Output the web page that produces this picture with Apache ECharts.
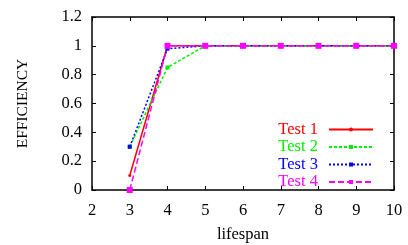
<!DOCTYPE html>
<html>
<head>
<meta charset="utf-8">
<script src="https://cdn.jsdelivr.net/npm/echarts@6/dist/echarts.min.js"></script>
<style>
  html, body { margin: 0; padding: 0; background: #fff; }
  #chart { width: 408px; height: 245px; }
</style>
</head>
<body>
<div id="chart"></div>
<script>
const lifespan = [3, 4, 5, 6, 7, 8, 9, 10]
const test1 = [0.1, 1, 1, 1, 1, 1, 1, 1]
const test2 = [0.3, 0.85, 1, 1, 1, 1, 1, 1]
const test3 = [0.3, 0.98, 1, 1, 1, 1, 1, 1]
const test4 = [0, 1, 1, 1, 1, 1, 1, 1]

const font = 'Liberation Serif'

function pairs(vals) {
    return lifespan.map((x, i) => [x, vals[i]])
}

function line(name, vals, color, type, symbol, size) {
    return {
        name,
        type: 'line',
        data: pairs(vals),
        symbol,
        symbolSize: size,
        showSymbol: true,
        color,
        itemStyle: { color },
        lineStyle: { color, width: 1.5, type },
        animation: false
    }
}

const axisLine = { show: true, onZero: false, lineStyle: { color: '#000', width: 1.5 } }
const tick = { show: true, inside: true, length: 4, lineStyle: { color: '#000', width: 1 } }
const labelStyle = { color: '#000', fontFamily: font, fontSize: 16.5 }

const chart = echarts.init(document.getElementById('chart'))
chart.setOption({
    backgroundColor: '#fff',
    grid: { left: 92, right: 14, top: 17, bottom: 55, containLabel: false, outerBoundsMode: 'none' },
    legend: {
        orient: 'vertical',
        right: 34,
        top: 121,
        padding: 0,
        align: 'right',
        itemWidth: 44,
        itemHeight: 5,
        itemGap: 0.5,
        textStyle: { fontFamily: font, fontSize: 16.5, lineHeight: 17, padding: [0, 6, 0, 0] },
        data: [
            { name: 'Test 1', textStyle: { color: '#ff0000' } },
            { name: 'Test 2', textStyle: { color: '#00ee00' } },
            { name: 'Test 3', textStyle: { color: '#0000ff' } },
            { name: 'Test 4', textStyle: { color: '#ff00ff' } }
        ]
    },
    xAxis: [{
        type: 'value',
        min: 2, max: 10, interval: 1,
        name: 'lifespan',
        nameLocation: 'middle',
        nameGap: 36,
        nameTextStyle: labelStyle,
        axisLine, axisTick: tick,
        axisLabel: { ...labelStyle, margin: 12 },
        splitLine: { show: false }
    }, {
        type: 'value', position: 'top',
        min: 2, max: 10, interval: 1,
        axisLine, axisTick: tick,
        axisLabel: { show: false },
        splitLine: { show: false }
    }],
    yAxis: [{
        type: 'value',
        min: 0, max: 1.2, interval: 0.2,
        name: 'EFFICIENCY',
        nameLocation: 'middle',
        nameGap: 61,
        nameTextStyle: { ...labelStyle, fontSize: 15.5 },
        axisLine, axisTick: tick,
        axisLabel: { ...labelStyle, margin: 10, formatter: v => String(+v.toFixed(1)) },
        splitLine: { show: false }
    }, {
        type: 'value', position: 'right',
        min: 0, max: 1.2, interval: 0.2,
        axisLine, axisTick: tick,
        axisLabel: { show: false },
        splitLine: { show: false }
    }],
    series: [
        line('Test 1', test1, '#ff0000', 'solid', 'circle', 3),
        line('Test 2', test2, '#00ee00', [3, 2], 'rect', 4),
        line('Test 3', test3, '#0000ff', [2, 2], 'rect', 4),
        line('Test 4', test4, '#ff00ff', [6, 3], 'rect', 6)
    ]
})
</script>
</body>
</html>
